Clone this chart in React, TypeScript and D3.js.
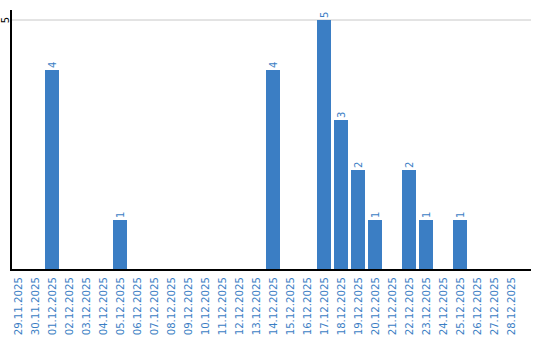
import React from "react";
import * as d3 from "d3";

const categories: string[] = [
  "29.11.2025", "30.11.2025", "01.12.2025", "02.12.2025", "03.12.2025",
  "04.12.2025", "05.12.2025", "06.12.2025", "07.12.2025", "08.12.2025",
  "09.12.2025", "10.12.2025", "11.12.2025", "12.12.2025", "13.12.2025",
  "14.12.2025", "15.12.2025", "16.12.2025", "17.12.2025", "18.12.2025",
  "19.12.2025", "20.12.2025", "21.12.2025", "22.12.2025", "23.12.2025",
  "24.12.2025", "25.12.2025", "26.12.2025", "27.12.2025", "28.12.2025",
];
const values: number[] = [
  0, 0, 4, 0, 0, 0, 1, 0, 0, 0,
  0, 0, 0, 0, 0, 4, 0, 0, 5, 3,
  2, 1, 0, 2, 1, 0, 1, 0, 0, 0,
];
const yTicks: number[] = [5];

const W = 540;
const H = 340;
const left = 11;
const right = 531;
const top = 10;
const bottom = 270;
const barColor = "#3b7ec4";
const textColor = "#3b7ec4";
const font = "DejaVu Sans, Verdana, sans-serif";

export default function App() {
  const x = d3
    .scaleBand<string>()
    .domain(categories)
    .range([left - 1.5, left - 1.5 + 510])
    .paddingInner(3 / 17)
    .paddingOuter(1.5 / 17);
  const y = d3.scaleLinear().domain([0, 5.2]).range([bottom, top]);

  return (
    <svg
      width={W}
      height={H}
      style={{ position: "absolute", left: 0, top: 0, background: "#fff" }}
    >
      {yTicks.map((t) => (
        <g key={t}>
          <line x1={left} x2={right} y1={y(t)} y2={y(t)} stroke="#c8c8c8" strokeWidth={1} />
          <text
            transform={`translate(5,${y(t)}) rotate(-90)`}
            textAnchor="middle"
            dominantBaseline="central"
            fontFamily={font}
            fontSize={10}
            fill="#000"
          >
            {t}
          </text>
        </g>
      ))}
      {categories.map((c, i) => {
        const v = values[i];
        const bx = x(c)!;
        const bw = x.bandwidth();
        const cx = bx + bw / 2;
        return (
          <g key={c}>
            {v > 0 && (
              <>
                <rect x={bx} y={y(v)} width={bw} height={bottom - y(v)} fill={barColor} />
                <text
                  transform={`translate(${cx},${y(v) - 2}) rotate(-90)`}
                  textAnchor="start"
                  dominantBaseline="central"
                  fontFamily={font}
                  fontSize={10}
                  fill={textColor}
                >
                  {v}
                </text>
              </>
            )}
            <text
              transform={`translate(${cx},${bottom + 7}) rotate(-90)`}
              textAnchor="end"
              dominantBaseline="central"
              fontFamily={font}
              fontSize={10.2}
              fill={textColor}
            >
              {c}
            </text>
          </g>
        );
      })}
      <line x1={left} x2={left} y1={top} y2={bottom + 1} stroke="#000" strokeWidth={2} />
      <line x1={left} x2={right} y1={bottom} y2={bottom} stroke="#000" strokeWidth={2} />
    </svg>
  );
}
